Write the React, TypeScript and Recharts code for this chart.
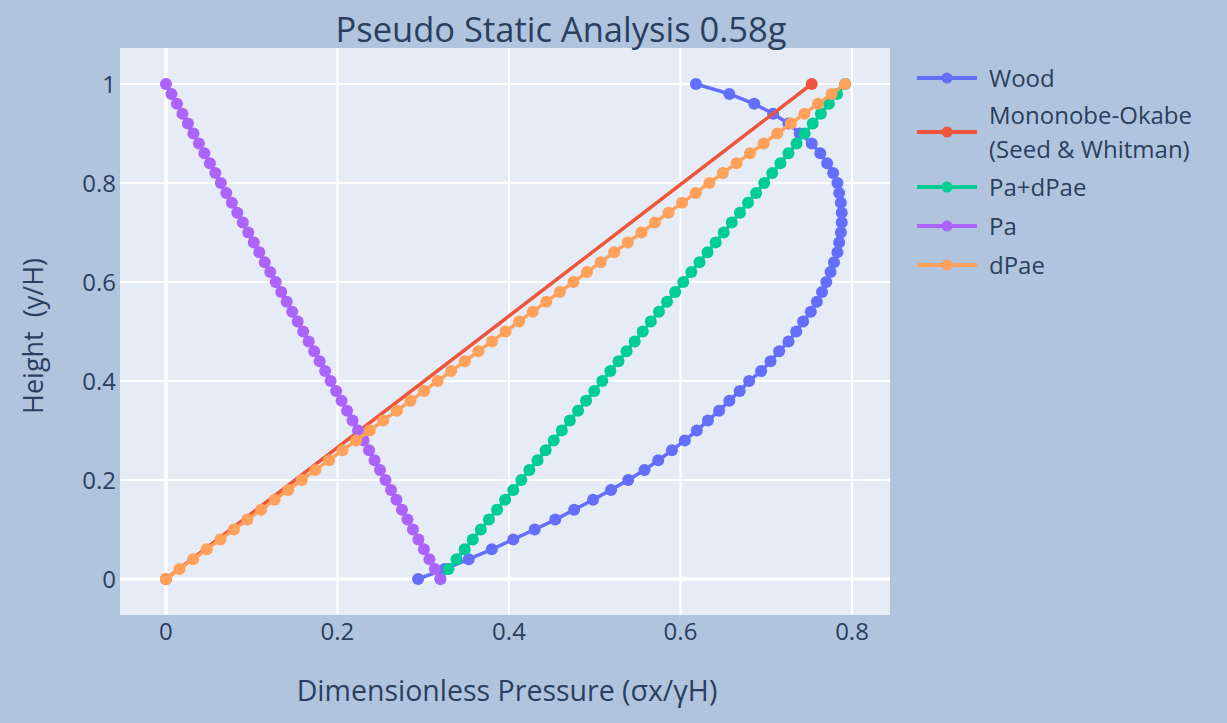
import {
  ScatterChart,
  Scatter,
  XAxis,
  YAxis,
  ReferenceArea,
  ReferenceLine,
} from 'recharts'

// wall height ratio y/H shared by the sampled series
const heights = [
  0, 0.02, 0.04, 0.06, 0.08, 0.1, 0.12, 0.14, 0.16, 0.18,
  0.2, 0.22, 0.24, 0.26, 0.28, 0.3, 0.32, 0.34, 0.36, 0.38,
  0.4, 0.42, 0.44, 0.46, 0.48, 0.5, 0.52, 0.54, 0.56, 0.58,
  0.6, 0.62, 0.64, 0.66, 0.68, 0.7, 0.72, 0.74, 0.76, 0.78,
  0.8, 0.82, 0.84, 0.86, 0.88, 0.9, 0.92, 0.94, 0.96, 0.98, 1,
]

const woodPressure = [
  0.294, 0.325, 0.353, 0.38, 0.405, 0.43, 0.454, 0.476, 0.498, 0.519,
  0.539, 0.558, 0.574, 0.59, 0.605, 0.619, 0.632, 0.645, 0.657, 0.669,
  0.68, 0.694, 0.705, 0.715, 0.726, 0.735, 0.743, 0.752, 0.759, 0.765,
  0.77, 0.775, 0.779, 0.783, 0.785, 0.787, 0.788, 0.788, 0.787, 0.785,
  0.783, 0.778, 0.771, 0.763, 0.753, 0.739, 0.726, 0.708, 0.686, 0.657, 0.618,
]

const moPressure = [0, 0.753]
const moHeights = [0, 1]

const paDpaePressure = [
  0.32, 0.3294, 0.3389, 0.3483, 0.3578, 0.3672, 0.3766, 0.3861, 0.3955, 0.405,
  0.4144, 0.4238, 0.4333, 0.4427, 0.4522, 0.4616, 0.471, 0.4805, 0.4899, 0.4994,
  0.5088, 0.5182, 0.5277, 0.5371, 0.5466, 0.556, 0.5654, 0.5749, 0.5843, 0.5938,
  0.6032, 0.6126, 0.6221, 0.6315, 0.641, 0.6504, 0.6598, 0.6693, 0.6787, 0.6882,
  0.6976, 0.707, 0.7165, 0.7259, 0.7354, 0.7448, 0.7542, 0.7637, 0.7731, 0.7826, 0.792,
]

const paPressure = [
  0.32, 0.3136, 0.3072, 0.3008, 0.2944, 0.288, 0.2816, 0.2752, 0.2688, 0.2624,
  0.256, 0.2496, 0.2432, 0.2368, 0.2304, 0.224, 0.2176, 0.2112, 0.2048, 0.1984,
  0.192, 0.1856, 0.1792, 0.1728, 0.1664, 0.16, 0.1536, 0.1472, 0.1408, 0.1344,
  0.128, 0.1216, 0.1152, 0.1088, 0.1024, 0.096, 0.0896, 0.0832, 0.0768, 0.0704,
  0.064, 0.0576, 0.0512, 0.0448, 0.0384, 0.032, 0.0256, 0.0192, 0.0128, 0.0064, 0,
]

const dpaePressure = [
  0, 0.0158, 0.0317, 0.0475, 0.0634, 0.0792, 0.095, 0.1109, 0.1267, 0.1426,
  0.1584, 0.1742, 0.1901, 0.2059, 0.2218, 0.2376, 0.2534, 0.2693, 0.2851, 0.301,
  0.3168, 0.3326, 0.3485, 0.3643, 0.3802, 0.396, 0.4118, 0.4277, 0.4435, 0.4594,
  0.4752, 0.491, 0.5069, 0.5227, 0.5386, 0.5544, 0.5702, 0.5861, 0.6019, 0.6178,
  0.6336, 0.6494, 0.6653, 0.6811, 0.697, 0.7128, 0.7286, 0.7445, 0.7603, 0.7762, 0.792,
]

const xTicks = [0, 0.2, 0.4, 0.6, 0.8]
const yTicks = [0, 0.2, 0.4, 0.6, 0.8, 1]
const xDomain = [-0.0536, 0.8443]
const yDomain = [-0.0727, 1.0727]

const toPoints = (xs: number[], ys: number[]) => xs.map((x, i) => ({ x, y: ys[i] }))

const series = [
  { name: 'Wood', color: '#636efa', data: toPoints(woodPressure, heights) },
  { name: 'Mononobe-Okabe\n(Seed & Whitman)', color: '#ef553b', data: toPoints(moPressure, moHeights) },
  { name: 'Pa+dPae', color: '#00cc96', data: toPoints(paDpaePressure, heights) },
  { name: 'Pa', color: '#ab63fa', data: toPoints(paPressure, heights) },
  { name: 'dPae', color: '#ffa15a', data: toPoints(dpaePressure, heights) },
]

const FONT = '"Open Sans", verdana, arial, sans-serif'
const TEXT = '#2a3f5f'

const legendRows = [78, 132, 187, 226, 265]

function Legend() {
  return (
    <>
      {series.map((s, i) => (
        <div
          key={s.name}
          style={{ position: 'absolute', left: 916, top: legendRows[i] - 40, height: 80, display: 'flex', alignItems: 'center' }}
        >
          <svg width={62} height={14} style={{ flex: 'none' }}>
            <line x1={1} y1={7} x2={61} y2={7} stroke={s.color} strokeWidth={4} />
            <circle cx={31} cy={7} r={5.5} fill={s.color} />
          </svg>
          <div style={{ marginLeft: 11, fontSize: 24, lineHeight: '34px', color: TEXT, whiteSpace: 'pre' }}>{s.name}</div>
        </div>
      ))}
    </>
  )
}

export default function App() {
  return (
    <div
      style={{ position: 'absolute', left: 0, top: 0, width: 1227, height: 723, background: '#b0c4de', fontFamily: FONT }}
    >
      <ScatterChart width={1227} height={723} margin={{ top: 48, right: 337, bottom: 58, left: 60 }}>
        <XAxis
          type="number"
          dataKey="x"
          domain={xDomain}
          ticks={xTicks}
          allowDataOverflow
          axisLine={false}
          tickLine={false}
          tickSize={0}
          tickMargin={8}
          height={50}
          tick={{ fill: TEXT, fontSize: 24, fontFamily: FONT }}
        />
        <YAxis
          type="number"
          dataKey="y"
          domain={yDomain}
          ticks={yTicks}
          allowDataOverflow
          axisLine={false}
          tickLine={false}
          tickSize={0}
          tickMargin={4}
          width={60}
          tick={{ fill: TEXT, fontSize: 24, fontFamily: FONT }}
        />
        {/* plot background and white grid */}
        <ReferenceArea x1={xDomain[0]} x2={xDomain[1]} y1={yDomain[0]} y2={yDomain[1]} fill="#e5ecf6" fillOpacity={1} stroke="none" />
        {xTicks.map((t) => (
          <ReferenceLine key={`gx${t}`} x={t} stroke="#ffffff" strokeWidth={t === 0 ? 3.5 : 2} />
        ))}
        {yTicks.map((t) => (
          <ReferenceLine key={`gy${t}`} y={t} stroke="#ffffff" strokeWidth={t === 0 ? 3.5 : 2} />
        ))}
        {series.map((s) => (
          <Scatter
            key={s.name}
            name={s.name}
            data={s.data}
            line={{ stroke: s.color, strokeWidth: 3.5 }}
            lineType="joint"
            isAnimationActive={false}
            shape={(p: any) => <circle cx={p.cx} cy={p.cy} r={6} fill={s.color} />}
          />
        ))}
      </ScatterChart>

      <div style={{ position: 'absolute', left: 561, top: 28, transform: 'translate(-50%, -50%)', fontSize: 34.5, color: TEXT, whiteSpace: 'nowrap' }}>
        Pseudo Static Analysis 0.58g
      </div>
      <div style={{ position: 'absolute', left: 507, top: 690, transform: 'translate(-50%, -50%)', fontSize: 28.5, color: TEXT, whiteSpace: 'nowrap' }}>
        Dimensionless Pressure (σx/γH)
      </div>
      <div
        style={{ position: 'absolute', left: 32, top: 336, transform: 'translate(-50%, -50%) rotate(-90deg)', fontSize: 27, color: TEXT, whiteSpace: 'pre' }}
      >
        Height  (y/H)
      </div>
      <Legend />
    </div>
  )
}
